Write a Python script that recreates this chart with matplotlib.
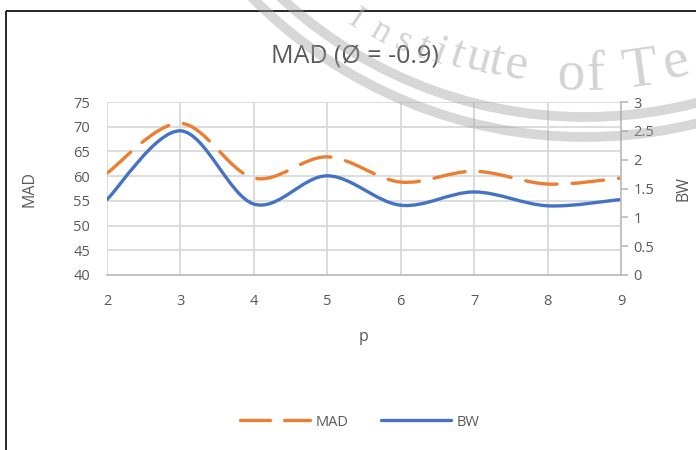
import numpy as np
import matplotlib.pyplot as plt
from matplotlib.path import Path
from matplotlib.patches import PathPatch, Circle, Rectangle
from matplotlib.lines import Line2D

# data
p_values = [2, 3, 4, 5, 6, 7, 8, 9]
mad_values = [60.6, 70.7, 59.6, 63.9, 58.8, 61.0, 58.4, 59.6]
bw_values = [1.31, 2.50, 1.23, 1.72, 1.21, 1.44, 1.20, 1.31]
mad_ticks = [40, 45, 50, 55, 60, 65, 70, 75]
bw_ticks = [0, 0.5, 1, 1.5, 2, 2.5, 3]
bw_tick_labels = ['0', '0.5', '1', '1.5', '2', '2.5', '3']

ORANGE = '#ED7D31'
BLUE = '#4472C4'
TEXT = '#595959'
GRID = '#D9D9D9'

plt.rcParams['font.family'] = ['Open Sans', 'DejaVu Sans']


def smooth_path(xs, ys):
    """Excel-style smoothed line: cubic Bezier segments through the points."""
    pts = np.column_stack([xs, ys]).astype(float)
    n = len(pts)
    verts = [pts[0]]
    codes = [Path.MOVETO]
    for i in range(n - 1):
        p0 = pts[max(i - 1, 0)]
        p1 = pts[i]
        p2 = pts[i + 1]
        p3 = pts[min(i + 2, n - 1)]
        c1 = p1 + (p2 - p0) / 6.0
        c2 = p2 - (p3 - p1) / 6.0
        verts += [c1, c2, p2]
        codes += [Path.CURVE4] * 3
    return Path(verts, codes)


fig = plt.figure(figsize=(6.96, 4.5), dpi=100)
ax = fig.add_axes([107 / 696, 1 - 275 / 450, (621 - 107) / 696, (275 - 102) / 450])
ax2 = ax.twinx()

ax.set_xlim(2, 9)
ax.set_ylim(40, 75)
ax2.set_ylim(0, 3)

ax.set_xticks(p_values)
ax.set_yticks(mad_ticks)
ax2.set_yticks(bw_ticks)
ax2.set_yticklabels(bw_tick_labels)

ax.grid(True, color=GRID, linewidth=1.3)
ax.set_axisbelow(True)
for a in (ax, ax2):
    for s in a.spines.values():
        s.set_visible(False)
ax.spines['bottom'].set_visible(True)
ax.spines['bottom'].set_color('#BFBFBF')
ax.spines['bottom'].set_linewidth(1.3)
ax2.spines['right'].set_visible(True)
ax2.spines['right'].set_color('#BFBFBF')
ax2.spines['right'].set_linewidth(1.3)

ax.tick_params(axis='x', length=0, pad=14, labelsize=10.5, labelcolor=TEXT)
ax.tick_params(axis='y', length=0, pad=12, labelsize=10.5, labelcolor=TEXT)
ax2.tick_params(axis='y', length=5, width=1.3, color='#BFBFBF', pad=4,
                labelsize=10.5, labelcolor=TEXT, direction='out')

mad_patch = PathPatch(smooth_path(p_values, mad_values), fill=False, edgecolor=ORANGE,
                      linewidth=2.4, linestyle=(0, (9.5, 4.5)), capstyle='round')
ax.add_patch(mad_patch)
bw_patch = PathPatch(smooth_path(p_values, bw_values), fill=False, edgecolor=BLUE,
                     linewidth=2.4, capstyle='round')
ax2.add_patch(bw_patch)

ax.set_xlabel('p', fontsize=11.5, color=TEXT, labelpad=14)
ax.set_ylabel('MAD', fontsize=11.5, color=TEXT, labelpad=26)
ax2.set_ylabel('BW', fontsize=11.5, color=TEXT, labelpad=15)

fig.text(355 / 696, 1 - 57 / 450, 'MAD (\u00d8 = -0.9)', ha='center', va='center',
         fontsize=18, color=TEXT)

handles = [Line2D([], [], color=ORANGE, linewidth=2.4, linestyle=(0, (9, 4.2)),
                  dash_capstyle='round'),
           Line2D([], [], color=BLUE, linewidth=2.4, solid_capstyle='round')]
fig.legend(handles, ['MAD', 'BW'], loc='center', bbox_to_anchor=(360 / 696, 1 - 422 / 450),
           ncol=2, frameon=False, fontsize=10.5, labelcolor=TEXT, handlelength=4.8,
           columnspacing=2.2, handletextpad=0.4)

# overlay in pixel coordinates: chart border and the page watermark
wm = fig.add_axes([0, 0, 1, 1], zorder=10)
wm.set_xlim(0, 696)
wm.set_ylim(450, 0)
wm.axis('off')
wm.patch.set_alpha(0)
wm.add_patch(Rectangle((6, 11), 720, 470, fill=False, edgecolor='black', linewidth=1.2))
cx, cy = 585, -330
for r in (447, 467):
    wm.add_patch(Circle((cx, cy), r, fill=False, edgecolor='#A0A0A0', alpha=0.42,
                        linewidth=7))
# watermark letters: (char, angle from vertical in degrees, baseline radius, font size)
letters = [('I', -33.3, 426, 24), ('n', -29.5, 425, 26), ('s', -26, 423, 27),
           ('t', -23.2, 421, 29), ('i', -20.8, 419, 31), ('t', -18.4, 417, 33),
           ('u', -15.4, 415, 35), ('t', -12.8, 414, 36), ('e', -9.8, 414, 37),
           ('o', -2, 420, 40), ('f', 1.4, 420, 40), ('T', 7.9, 420, 42), ('e', 13, 417, 42)]
for ch, phi, rad, size in letters:
    a = np.radians(phi)
    x = cx + rad * np.sin(a)
    y = cy + rad * np.cos(a)
    wm.text(x, y, ch, ha='center', va='baseline', rotation=phi, rotation_mode='anchor',
            fontsize=size, color='#A8A8A8', alpha=0.5, family='Liberation Serif')

fig.savefig('out.png', dpi=100)
